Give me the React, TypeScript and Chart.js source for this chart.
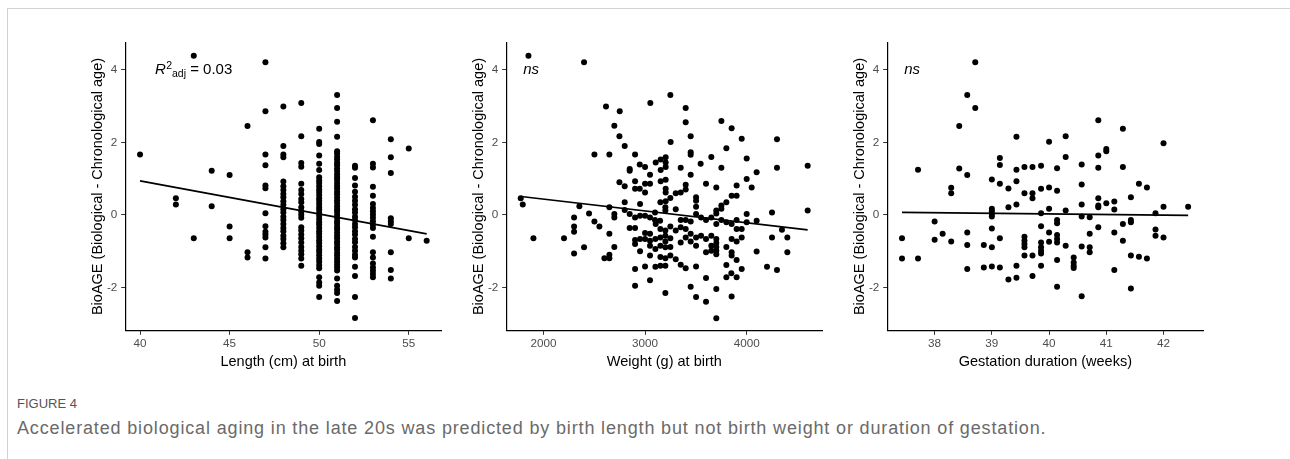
import React, { useEffect, useRef } from 'react';
import { Chart, registerables } from 'chart.js';

Chart.register(...registerables);

const FONT = '"Liberation Sans", Arial, Helvetica, sans-serif';

// ---------- shared axis data ----------
const yTickValues = [-2, 0, 2, 4];
const yRange = [-3.18, 4.75];
const yTitle = 'BioAGE (Biological - Chronological age)';

// ---------- Panel 1: length at birth ----------
const lengthTicks = [40, 45, 50, 55];
const lengthRange = [39.2, 56.8];
const lengthColumnsCm = [40, 42, 43, 44, 45, 46, 47, 48, 49, 50, 51, 52, 53, 54, 55, 56];
const lengthColumnBioAge: number[][] = [
  [1.67],
  [0.46, 0.29],
  [4.39, -0.64],
  [1.22, 0.24],
  [1.1, -0.32, -0.64],
  [2.45, -1.03, -1.17],
  [4.21, 2.86, 1.67, 1.37, 0.81, 0.74, 0.05, -0.31, -0.46, -0.54, -0.62, -0.89, -1.2],
  [2.99, 1.9, 1.67, 1.59, 0.92, 0.79, 0.69, 0.58, 0.49, 0.38, 0.28, 0.16, 0.07, -0.05, -0.14, -0.25, -0.36, -0.45, -0.57, -0.66, -0.78, -0.89],
  [3.09, 2.17, 1.43, 1.33, 0.86, 0.69, 0.58, 0.44, 0.35, 0.21, 0.1, 0.01, -0.08, -0.34, -0.43, -0.54, -0.64, -0.76, -0.88, -0.99, -1.08, -1.2, -1.4],
  [2.38, 2.01, 1.96, 1.64, 1.41, 1.24, 1.04, 0.95, 0.88, 0.79, 0.7, 0.63, 0.55, 0.46, 0.39, 0.31, 0.22, 0.15, 0.06, -0.02, -0.11, -0.2, -0.27, -0.36, -0.45, -0.52, -0.61, -0.7, -0.77, -0.86, -0.95, -1.02, -1.11, -1.2, -1.28, -1.38, -1.47, -1.72, -1.86, -1.95, -2.26],
  [3.31, 2.95, 2.57, 2.16, 1.76, 1.69, 1.6, 1.53, 1.44, 1.37, 1.28, 1.21, 1.12, 1.04, 0.97, 0.88, 0.8, 0.73, 0.64, 0.57, 0.48, 0.4, 0.33, 0.24, 0.16, 0.09, 0.0, -0.08, -0.17, -0.24, -0.33, -0.4, -0.49, -0.57, -0.64, -0.73, -0.8, -0.89, -0.96, -1.05, -1.12, -1.21, -1.29, -1.37, -1.45, -1.53, -1.75, -1.95, -2.06, -2.15, -2.37],
  [1.36, 1.3, 1.02, 0.81, 0.64, 0.5, 0.39, 0.28, 0.16, 0.07, -0.05, -0.14, -0.25, -0.34, -0.45, -0.54, -0.66, -0.75, -0.88, -0.99, -1.1, -1.17, -1.43, -1.68, -2.26, -2.84],
  [2.61, 1.41, 1.31, 0.78, 0.53, 0.3, 0.19, 0.1, 0.01, -0.08, -0.17, -0.27, -0.36, -0.6, -1.03, -1.17, -1.34, -1.45, -1.54, -1.63, -1.72],
  [2.09, 1.59, 1.16, -0.09, -0.17, -0.25, -1.03, -1.52, -1.75],
  [1.83, -0.64],
  [-0.71],
];
const lengthFitX = [40, 56];
const lengthFitY = [0.94, -0.52];

// ---------- Panel 2: weight at birth ----------
const weightTicks = [2000, 3000, 4000];
const weightRange = [1639, 4741];
const weightPoints: [number, number][] = [
  [1853, 4.39], [2400, 4.21], [1777, 0.46], [1797, 0.29], [1902, -0.64], [2616, 2.99], [2751, 2.86],
  [3052, 3.09], [3249, 3.31], [3400, 2.95], [4298, 2.09], [4298, 1.3], [4600, 1.36], [4600, 0.12],
  [4249, 0.07], [4347, -0.41], [4400, -0.62], [4249, -0.62], [4400, -1.03], [4200, -1.43], [4298, -1.52],
  [2698, 2.46], [3400, 2.56], [3751, 2.59], [3852, 2.39], [2748, 2.17], [3449, 2.17], [3951, 2.1],
  [3252, 2.01], [2800, 1.9], [3800, 1.84], [2502, 1.67], [2649, 1.67], [2902, 1.67], [3449, 1.73],
  [3449, 1.66], [3652, 1.6], [4000, 1.56], [3203, 1.59], [3154, 1.53], [3105, 1.45], [3203, 1.45],
  [3547, 1.41], [2948, 1.39], [3000, 1.32], [2849, 1.27], [2849, 1.22], [3154, 1.24], [3351, 1.3],
  [3751, 1.3], [4098, 1.18], [3203, 1.32], [3049, 1.11], [3449, 1.11], [4000, 0.99], [4049, 0.76],
  [2748, 0.9], [2800, 0.79], [2902, 0.93], [2902, 0.72], [2948, 0.72], [3000, 0.86], [3000, 0.62],
  [3049, 0.86], [3154, 0.93], [3203, 0.97], [3203, 0.72], [3203, 0.62], [3302, 0.6], [3351, 0.62],
  [3400, 0.83], [3400, 0.7], [3600, 0.86], [3701, 0.76], [3901, 0.81], [3852, 0.53], [3901, 0.53],
  [3800, 0.35], [3751, 0.17], [3751, 0.26], [3701, 0.12], [3701, 0.04], [3502, 0.49], [3502, 0.39],
  [3502, 0.23], [3249, 0.47], [3203, 0.38], [3151, 0.35], [3200, 0.21], [3200, 0.12], [3302, 0.16],
  [2951, 0.3], [2800, 0.35], [2354, 0.24], [2649, 0.21], [2698, 0.03], [2698, -0.07], [2800, 0.14],
  [2849, 0.03], [2449, 0.04], [2302, -0.07], [2302, -0.32], [2302, -0.46], [2502, -0.18], [2551, -0.32],
  [2203, -0.64], [2400, -0.89], [2302, -1.06], [2600, -1.19], [2649, -1.19], [2649, -1.1], [2649, -0.52],
  [2698, -0.88], [2849, -0.36], [2902, -0.07], [2902, -0.36], [3000, -0.02], [2951, -0.02], [3049, -0.07],
  [3098, 0.07], [3098, -0.14], [3105, -0.25], [3148, -0.16], [3151, -0.39], [3200, -0.43], [3249, -0.32],
  [3351, -0.14], [3400, -0.14], [3400, -0.39], [3449, -0.18], [3502, 0.03], [3551, -0.07], [3600, -0.14],
  [3652, -0.07], [3701, -0.25], [3751, -0.14], [3800, -0.2], [3852, -0.25], [3901, -0.14], [4000, 0.03],
  [4000, -0.2], [4098, -0.16], [3901, -0.39], [3951, -0.39], [3951, -0.62], [3901, -0.73], [3852, -0.66],
  [3800, -0.88], [3852, -1.03], [3852, -1.12], [4098, -1.01], [3800, -1.38], [3800, -1.72], [3849, -1.61],
  [3901, -1.72], [3951, -1.49], [3701, -0.77], [3701, -0.88], [3701, -0.99], [3701, -1.08], [3652, -0.85],
  [3652, -0.99], [3652, -0.57], [3701, -0.66], [3600, -0.66], [3600, -1.03], [3551, -0.57], [3502, -0.62],
  [3502, -0.85], [3449, -0.52], [3449, -0.73], [3400, -0.62], [3351, -0.76], [3351, -0.34], [3302, -0.43],
  [3249, -0.64], [3200, -0.57], [3151, -0.62], [3200, -0.73], [3151, -0.85], [3102, -0.66], [3049, -0.52],
  [3000, -0.5], [3000, -0.66], [3049, -0.71], [2951, -0.66], [2902, -0.69], [2902, -0.8], [2951, -1.0],
  [3049, -0.85], [3102, -0.94], [3200, -0.89], [3249, -0.88], [3151, -1.16], [3200, -1.19], [3249, -1.12],
  [3302, -1.22], [3200, -1.4], [3151, -1.4], [3102, -1.43], [3049, -1.12], [3000, -1.42], [2902, -1.49],
  [3351, -1.37], [3400, -1.47], [3502, -1.42], [3600, -1.74], [3701, -2.04], [3701, -2.85], [2902, -1.95],
  [3049, -1.8], [3200, -2.15], [3449, -1.98], [3502, -2.26], [3600, -2.39], [3852, -2.25], [3901, -1.24],
];
const weightFitX = [1780, 4600];
const weightFitY = [0.51, -0.41];

// ---------- Panel 3: gestation duration ----------
const gestationTicks = [38, 39, 40, 41, 42];
const gestationRange = [37.18, 42.69];
const gestationPoints: [number, number][] = [
  [37.43, -0.64], [37.43, -1.2], [37.71, 1.25], [37.71, -1.2], [38.0, -0.18], [38.0, -0.68], [38.14, -0.52],
  [38.29, 0.75], [38.29, 0.6], [38.29, -0.73], [38.43, 2.45], [38.43, 1.28], [38.57, 3.31], [38.57, 1.1],
  [38.57, -0.48], [38.57, -0.83], [38.57, -1.49], [38.71, 4.21], [38.71, 2.95], [38.86, -0.83], [38.86, -1.45],
  [39.0, 0.98], [39.0, 0.17], [39.0, 0.1], [39.0, 0.03], [39.0, -0.04], [39.0, -0.37], [39.0, -0.89],
  [39.0, -1.42], [39.14, 1.57], [39.14, 1.38], [39.14, 0.86], [39.14, -0.64], [39.14, -1.45], [39.29, 0.73],
  [39.29, 0.21], [39.29, -1.78], [39.43, 2.16], [39.43, 1.25], [39.43, 0.93], [39.43, 0.29], [39.43, -1.4],
  [39.43, -1.73], [39.57, 1.32], [39.57, 0.6], [39.57, -0.6], [39.57, -0.71], [39.57, -0.8], [39.57, -0.89],
  [39.57, -1.12], [39.71, 1.32], [39.71, 0.6], [39.71, 0.46], [39.71, -1.12], [39.71, -1.68], [39.86, 1.36],
  [39.86, 0.72], [39.86, 0.05], [39.86, -0.31], [39.86, -0.76], [39.86, -0.89], [39.86, -0.99], [39.86, -1.06],
  [39.86, -1.4], [40.0, 2.02], [40.0, 0.76], [40.0, 0.17], [40.0, -0.48], [40.0, -0.74], [40.29, 2.17],
  [40.29, 1.6], [40.14, 0.67], [40.14, -0.14], [40.14, -0.23], [40.14, -0.55], [40.14, -0.66], [40.14, -0.76],
  [40.14, -1.24], [40.14, -1.98], [40.14, 1.29], [40.29, 0.12], [40.29, -0.85], [40.43, -1.17], [40.43, -1.31],
  [40.43, -1.4], [40.43, -1.46], [40.57, 1.39], [40.57, 0.84], [40.57, 0.29], [40.57, -0.04], [40.57, -0.87],
  [40.57, -2.24], [40.71, -0.06], [40.71, -0.52], [40.71, -0.89], [40.71, -1.03], [40.86, 2.61], [40.86, 1.64],
  [40.86, 1.3], [40.86, 0.46], [40.86, 0.26], [40.86, 0.21], [40.86, -0.34], [41.0, 1.82], [41.0, 1.76],
  [41.0, 0.32], [41.14, 0.37], [41.14, 0.15], [41.14, -0.48], [41.14, -1.52], [41.29, 2.38], [41.29, 1.32],
  [41.29, -0.25], [41.29, -0.71], [41.43, 0.49], [41.43, -0.14], [41.43, -0.2], [41.43, -1.12], [41.43, -2.03],
  [41.57, 0.86], [41.57, -1.15], [41.71, 0.76], [41.71, -1.2], [41.86, 0.05], [41.86, -0.4], [41.86, -0.57],
  [42.0, 1.98], [42.0, 0.23], [42.0, -0.62], [42.43, 0.23],
];
const gestationFitX = [37.43, 42.43];
const gestationFitY = [0.07, -0.01];

const captionLabel = 'FIGURE 4';
const captionText =
  'Accelerated biological aging in the late 20s was predicted by birth length but not birth weight or duration of gestation.';

// ---------- layout ----------
const CANVAS_W = 366;
const CANVAS_H = 345;
const CANVAS_TOP = 30;
const Y_SCALE_W = 40.7;
const X_SCALE_H = 44.7;

type Pt = { x: number; y: number };

interface PanelProps {
  left: number;
  points: Pt[];
  fit: Pt[];
  xRange: number[];
  xTicks: number[];
  xTitle: string;
  note: 'r2' | 'ns';
}

function makeNotePlugin(note: 'r2' | 'ns') {
  return {
    id: 'note',
    afterDatasetsDraw(chart: any) {
      const ctx = chart.ctx as CanvasRenderingContext2D;
      const a = chart.chartArea;
      ctx.save();
      ctx.fillStyle = '#000';
      ctx.textBaseline = 'alphabetic';
      ctx.textAlign = 'left';
      const base = a.top + 31.4;
      if (note === 'r2') {
        let x = a.left + 29.3;
        ctx.font = `italic 15px ${FONT}`;
        ctx.fillText('R', x, base);
        x += ctx.measureText('R').width + 0.3;
        ctx.font = `10.5px ${FONT}`;
        ctx.fillText('2', x, base - 5.5);
        x += ctx.measureText('2').width;
        ctx.fillText('adj', x, base + 2.6);
        x += ctx.measureText('adj').width;
        ctx.font = `15px ${FONT}`;
        ctx.fillText(' = 0.03', x, base);
      } else {
        ctx.font = `italic 15px ${FONT}`;
        ctx.fillText('ns', a.left + 16.5, base);
      }
      ctx.restore();
    },
  };
}

function Panel({ left, points, fit, xRange, xTicks, xTitle, note }: PanelProps) {
  const ref = useRef<HTMLCanvasElement>(null);
  useEffect(() => {
    if (!ref.current) return;
    const tickFont = { family: FONT, size: 11.7 };
    const titleFont = { family: FONT, size: 14.5 };
    const chart = new Chart(ref.current, {
      type: 'scatter',
      data: {
        datasets: [
          {
            data: fit,
            showLine: true,
            borderColor: '#000',
            borderWidth: 1.7,
            pointRadius: 0,
            pointHoverRadius: 0,
            fill: false,
          },
          {
            data: points,
            showLine: false,
            pointRadius: 3,
            pointHoverRadius: 3,
            pointBackgroundColor: '#000',
            pointBorderWidth: 0,
            backgroundColor: '#000',
          },
        ],
      },
      options: {
        animation: false,
        responsive: false,
        events: [],
        layout: { padding: { top: 12.7, right: 10, left: 0, bottom: 0 } },
        plugins: { legend: { display: false }, tooltip: { enabled: false } },
        scales: {
          x: {
            type: 'linear',
            min: xRange[0],
            max: xRange[1],
            afterBuildTicks: (s: any) => {
              s.ticks = xTicks.map((v) => ({ value: v }));
            },
            afterFit: (s: any) => {
              s.height = X_SCALE_H;
            },
            ticks: {
              color: '#4d4d4d',
              font: tickFont,
              padding: 1.5,
              maxRotation: 0,
              callback: (v: any) => String(v),
            },
            grid: { display: true, drawOnChartArea: false, drawTicks: true, tickLength: 4.5, color: '#333333', lineWidth: 1 },
            border: { display: true, color: '#000', width: 1.2 },
            title: { display: true, text: xTitle, color: '#000', font: titleFont, padding: { top: 4, bottom: 4 } },
          },
          y: {
            type: 'linear',
            min: yRange[0],
            max: yRange[1],
            afterBuildTicks: (s: any) => {
              s.ticks = yTickValues.map((v) => ({ value: v }));
            },
            afterFit: (s: any) => {
              s.width = Y_SCALE_W;
            },
            ticks: {
              color: '#4d4d4d',
              font: tickFont,
              padding: 3.9,
              callback: (v: any) => String(v),
            },
            grid: { display: true, drawOnChartArea: false, drawTicks: true, tickLength: 4.5, color: '#333333', lineWidth: 1 },
            border: { display: true, color: '#000', width: 1.2 },
            title: { display: true, text: yTitle, color: '#000', font: titleFont, padding: { top: 4, bottom: 4 } },
          },
        },
      },
      plugins: [makeNotePlugin(note)],
    } as any);
    return () => chart.destroy();
  }, []);
  return (
    <canvas
      ref={ref}
      width={CANVAS_W}
      height={CANVAS_H}
      style={{ position: 'absolute', left, top: CANVAS_TOP, width: CANVAS_W, height: CANVAS_H, display: 'block' }}
    />
  );
}

function toPts(xs: number[], ys: number[]): Pt[] {
  return xs.map((x, i) => ({ x, y: ys[i] }));
}

export default function App() {
  const lengthPts: Pt[] = [];
  lengthColumnsCm.forEach((cm, i) => {
    lengthColumnBioAge[i].forEach((v) => lengthPts.push({ x: cm, y: v }));
  });
  const weightPts = weightPoints.map(([x, y]) => ({ x, y }));
  const gestPts = gestationPoints.map(([x, y]) => ({ x, y }));

  return (
    <div
      style={{
        position: 'absolute',
        left: 0,
        top: 0,
        width: 1290,
        height: 459,
        background: '#fff',
        overflow: 'hidden',
        fontFamily: FONT,
      }}
    >
      <div
        style={{
          position: 'absolute',
          left: 7,
          top: 8,
          width: 1400,
          height: 600,
          borderLeft: '1.5px solid #d2d2d2',
          borderTop: '1.5px solid #d2d2d2',
        }}
      />
      <Panel left={85} points={lengthPts} fit={toPts(lengthFitX, lengthFitY)} xRange={lengthRange} xTicks={lengthTicks} xTitle="Length (cm) at birth" note="r2" />
      <Panel left={466} points={weightPts} fit={toPts(weightFitX, weightFitY)} xRange={weightRange} xTicks={weightTicks} xTitle="Weight (g) at birth" note="ns" />
      <Panel left={847} points={gestPts} fit={toPts(gestationFitX, gestationFitY)} xRange={gestationRange} xTicks={gestationTicks} xTitle="Gestation duration (weeks)" note="ns" />
      <div style={{ position: 'absolute', left: 17, top: 397, fontSize: 13, lineHeight: '13px', color: '#555', letterSpacing: 0 }}>
        {captionLabel}
      </div>
      <div style={{ position: 'absolute', left: 17, top: 419, fontSize: 18, lineHeight: '18px', color: '#6a6a6a', whiteSpace: 'nowrap', letterSpacing: 0.85 }}>
        {captionText}
      </div>
    </div>
  );
}
